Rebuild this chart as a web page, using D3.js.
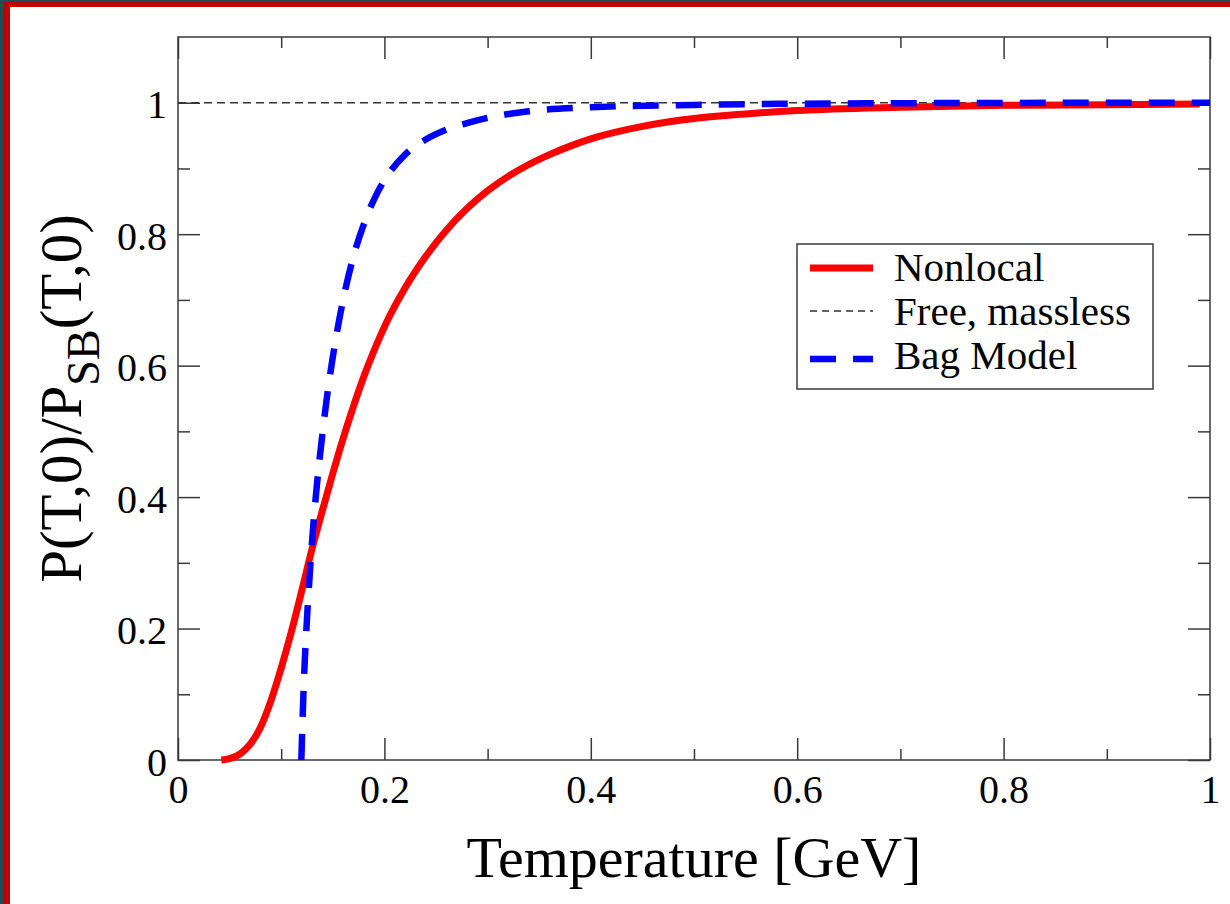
<!DOCTYPE html>
<html>
<head>
<meta charset="utf-8">
<script src="https://cdn.jsdelivr.net/npm/d3@7"></script>
<style>
  html, body { margin: 0; padding: 0; background: #fff; }
  svg text { font-family: "Liberation Serif", "Times New Roman", serif; fill: #000; }
</style>
</head>
<body>
<svg id="chart"></svg>
<script>
// values
const nonlocalT = [0.042, 0.05, 0.06, 0.07, 0.08, 0.09, 0.10, 0.11, 0.12, 0.13, 0.14, 0.15, 0.16, 0.17, 0.18, 0.19, 0.20, 0.22, 0.24, 0.26, 0.28, 0.30, 0.32, 0.34, 0.36, 0.38, 0.40, 0.45, 0.50, 0.55, 0.60, 0.70, 0.80, 0.90, 0.99];
const nonlocalP = [0, 0.002, 0.009, 0.024, 0.05, 0.09, 0.14, 0.196, 0.258, 0.322, 0.38, 0.436, 0.489, 0.538, 0.583, 0.623, 0.659, 0.718, 0.766, 0.806, 0.839, 0.866, 0.888, 0.906, 0.921, 0.934, 0.945, 0.964, 0.976, 0.983, 0.988, 0.993, 0.996, 0.997, 0.998];

const bagT = [0.1195, 0.122, 0.125, 0.128, 0.131, 0.135, 0.14, 0.145, 0.15, 0.16, 0.17, 0.18, 0.19, 0.20, 0.22, 0.24, 0.26, 0.28, 0.30, 0.34, 0.40, 0.50, 0.60, 0.70, 0.80, 0.90, 1.0];
const bagP = [0, 0.12, 0.215, 0.29, 0.355, 0.425, 0.497, 0.56, 0.613, 0.70, 0.766, 0.815, 0.853, 0.882, 0.921, 0.944, 0.959, 0.969, 0.977, 0.987, 0.993, 0.9967, 0.9985, 0.9993, 0.9997, 0.9999, 1.0];

const freeT = [0, 1];
const freeP = [1, 1];

const xTicks = [0, 0.2, 0.4, 0.6, 0.8, 1];
const xTickLabels = ["0", "0.2", "0.4", "0.6", "0.8", "1"];
const yTicks = [0, 0.2, 0.4, 0.6, 0.8, 1];
const yTickLabels = ["0", "0.2", "0.4", "0.6", "0.8", "1"];
const xMinor = [0.1, 0.3, 0.5, 0.7, 0.9];
const yMinor = [0.1, 0.3, 0.5, 0.7, 0.9];

const legendNames = ["Nonlocal", "Free, massless", "Bag Model"];

const width = 1230, height = 904;
const margin = {left: 178, top: 37, right: 20, bottom: 144};

const svg = d3.select("#chart")
    .attr("width", width)
    .attr("height", height);

svg.append("rect").attr("width", width).attr("height", height).attr("fill", "#fff");

//////////////// frame of the slide ////////////////
svg.append("rect").attr("x", 0).attr("y", 0).attr("width", 3).attr("height", height).attr("fill", "#1f4d56");
svg.append("rect").attr("x", 0).attr("y", 0).attr("width", width).attr("height", 2).attr("fill", "#1f4d56");
svg.append("rect").attr("x", 3).attr("y", 2).attr("width", 7).attr("height", height).attr("fill", "#c00000");
svg.append("rect").attr("x", 3).attr("y", 2).attr("width", width).attr("height", 5).attr("fill", "#c00000");

const x = d3.scaleLinear().domain([0, 1]).range([margin.left, width - margin.right]);
const y = d3.scaleLinear().domain([0, 1.1]).range([height - margin.bottom, margin.top]);

const x0 = x(0), x1 = x(1), y0 = y(0), y1 = y(1.1);
const axisColor = "#3a3a3a";

//////////////// axes (ticks inside, on all four sides) ////////////////
const bottomAxis = svg.append("g").attr("transform", `translate(0,${y0})`)
    .call(d3.axisBottom(x).tickValues(xTicks).tickSize(-22).tickFormat((d, i) => xTickLabels[i]).tickPadding(12));
svg.append("g").attr("transform", `translate(0,${y1})`)
    .call(d3.axisTop(x).tickValues(xTicks).tickSize(-22).tickFormat(""));
const leftAxis = svg.append("g").attr("transform", `translate(${x0},0)`)
    .call(d3.axisLeft(y).tickValues(yTicks).tickSize(-22).tickFormat((d, i) => yTickLabels[i]).tickPadding(11));
svg.append("g").attr("transform", `translate(${x1},0)`)
    .call(d3.axisRight(y).tickValues(yTicks).tickSize(-22).tickFormat(""));

// minor ticks
svg.append("g").attr("transform", `translate(0,${y0})`)
    .call(d3.axisBottom(x).tickValues(xMinor).tickSize(-11).tickFormat(""));
svg.append("g").attr("transform", `translate(0,${y1})`)
    .call(d3.axisTop(x).tickValues(xMinor).tickSize(-11).tickFormat(""));
svg.append("g").attr("transform", `translate(${x0},0)`)
    .call(d3.axisLeft(y).tickValues(yMinor).tickSize(-12).tickFormat(""));
svg.append("g").attr("transform", `translate(${x1},0)`)
    .call(d3.axisRight(y).tickValues(yMinor).tickSize(-12).tickFormat(""));

svg.selectAll(".domain").remove();
svg.selectAll(".tick line").attr("stroke", axisColor).attr("stroke-width", 1.5);
svg.selectAll(".tick text").attr("font-size", "40px").attr("font-family", "Liberation Serif, serif").attr("fill", "#000");
bottomAxis.selectAll(".tick text").attr("dy", "0.78em");
leftAxis.selectAll(".tick text").attr("dy", "0.38em");

svg.append("rect")
    .attr("x", x0).attr("y", y1)
    .attr("width", x1 - x0).attr("height", y0 - y1)
    .attr("fill", "none").attr("stroke", axisColor).attr("stroke-width", 1.5);

//////////////// curves ////////////////
const line = d3.line()
    .x(d => x(d[0]))
    .y(d => y(d[1]))
    .curve(d3.curveMonotoneX);

svg.append("path")
    .datum(freeT.map((t, i) => [t, freeP[i]]))
    .attr("d", line)
    .attr("fill", "none")
    .attr("stroke", "#333")
    .attr("stroke-width", 1.3)
    .attr("stroke-dasharray", "8,5");

svg.append("path")
    .datum(nonlocalT.map((t, i) => [t, nonlocalP[i]]))
    .attr("d", line)
    .attr("fill", "none")
    .attr("stroke", "#ff0000")
    .attr("stroke-width", 7);

svg.append("path")
    .datum(bagT.map((t, i) => [t, bagP[i]]))
    .attr("d", line)
    .attr("fill", "none")
    .attr("stroke", "#0000ff")
    .attr("stroke-width", 6.5)
    .attr("stroke-dasharray", "26,17");

//////////////// axis titles ////////////////
svg.append("text")
    .attr("x", (x0 + x1) / 2)
    .attr("y", 877)
    .attr("text-anchor", "middle")
    .attr("font-size", "58px")
    .text("Temperature [GeV]");

const ytitle = svg.append("text")
    .attr("transform", `translate(81,${(y0 + y1) / 2}) rotate(-90)`)
    .attr("text-anchor", "middle")
    .attr("font-size", "59px");
ytitle.append("tspan").text("P(T,0)/P");
ytitle.append("tspan").attr("font-size", "46px").attr("dy", 18).text("SB");
ytitle.append("tspan").attr("dy", -18).text("(T,0)");

//////////////// legend ////////////////
const legend = svg.append("g").attr("id", "legend");
legend.append("rect")
    .attr("x", 797).attr("y", 244)
    .attr("width", 356).attr("height", 145)
    .attr("fill", "#fff").attr("stroke", axisColor).attr("stroke-width", 1.5);

const legendStyles = [
    {stroke: "#ff0000", width: 7, dash: null, ly: 268, ty: 281},
    {stroke: "#333", width: 1.3, dash: "7,5", ly: 311, ty: 325},
    {stroke: "#0000ff", width: 6.5, dash: "26,17", ly: 359, ty: 369}
];

legendNames.forEach(function (name, i) {
    const s = legendStyles[i];
    legend.append("line")
        .attr("x1", 810).attr("x2", 873)
        .attr("y1", s.ly).attr("y2", s.ly)
        .attr("stroke", s.stroke)
        .attr("stroke-width", s.width)
        .attr("stroke-dasharray", s.dash);
    legend.append("text")
        .attr("x", 894).attr("y", s.ty)
        .attr("font-size", "41px")
        .text(name);
});
</script>
</body>
</html>
